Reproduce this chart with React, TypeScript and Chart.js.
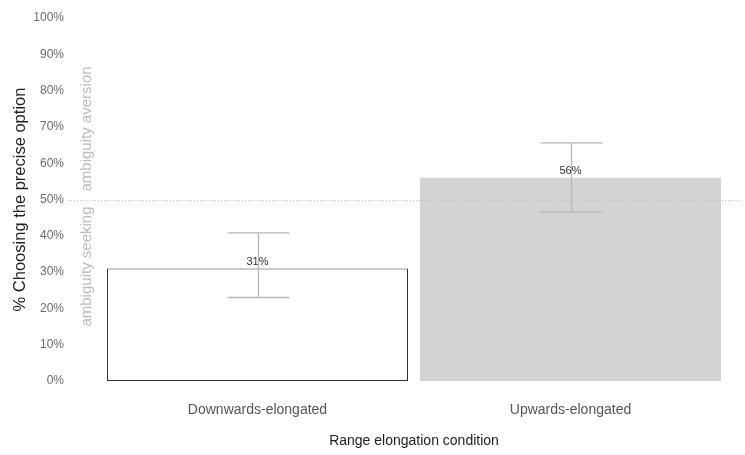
import React, { useEffect, useRef } from "react";
import { Chart, registerables } from "chart.js";

Chart.register(...registerables);

const categories = ["Downwards-elongated", "Upwards-elongated"];
const percentChoosing = [31, 56];
const ciLower = [23, 46.5];
const ciUpper = [40.8, 65.6];
const barFills = ["#ffffff", "#d3d3d3"];
const barBorders = ["#333333", "#d3d3d3"];
const barBorderWidths = [1, 0];
const referenceLine = 50;
const aboveLabel = "ambiguity aversion";
const belowLabel = "ambiguity seeking";

const FONT = "'Liberation Sans', Arial, Helvetica, sans-serif";

const annotationPlugin = {
  id: "annotations",
  afterDatasetsDraw(chart: any) {
    const { ctx, scales } = chart;
    const y = scales.y;
    const y50 = Math.round(y.getPixelForValue(referenceLine)) + 0.5;
    ctx.save();
    // dotted reference line
    ctx.strokeStyle = "#bdbdbd";
    ctx.lineWidth = 1;
    ctx.setLineDash([1, 2]);
    ctx.beginPath();
    ctx.moveTo(68, y50);
    ctx.lineTo(741, y50);
    ctx.stroke();
    ctx.setLineDash([]);

    // error bars
    const meta = chart.getDatasetMeta(0);
    ctx.strokeStyle = "#b8b8b8";
    ctx.lineWidth = 1.3;
    meta.data.forEach((bar: any, i: number) => {
      const cx = Math.round(bar.x) + 0.5;
      const yl = y.getPixelForValue(ciLower[i]);
      const yu = y.getPixelForValue(ciUpper[i]);
      const half = 31;
      ctx.beginPath();
      ctx.moveTo(cx, yl);
      ctx.lineTo(cx, yu);
      ctx.moveTo(cx - half, yu);
      ctx.lineTo(cx + half, yu);
      ctx.moveTo(cx - half, yl);
      ctx.lineTo(cx + half, yl);
      ctx.stroke();
    });

    // value labels
    ctx.fillStyle = "#333333";
    ctx.font = `11px ${FONT}`;
    ctx.textAlign = "center";
    ctx.textBaseline = "middle";
    meta.data.forEach((bar: any, i: number) => {
      ctx.fillText(`${percentChoosing[i]}%`, bar.x, y.getPixelForValue(percentChoosing[i]) - 6.5);
    });

    // rotated side annotations
    ctx.fillStyle = "#bbbbbb";
    ctx.font = `15px ${FONT}`;
    ctx.textBaseline = "middle";
    ctx.save();
    ctx.translate(87, y50 - 9);
    ctx.rotate(-Math.PI / 2);
    ctx.textAlign = "left";
    ctx.fillText(aboveLabel, 0, 0);
    ctx.restore();
    ctx.save();
    ctx.translate(87, y50 + 6);
    ctx.rotate(-Math.PI / 2);
    ctx.textAlign = "right";
    ctx.fillText(belowLabel, 0, 0);
    ctx.restore();
    ctx.restore();
  },
};

export default function App() {
  const ref = useRef<HTMLCanvasElement | null>(null);
  useEffect(() => {
    document.body.style.margin = "0";
    if (!ref.current) return;
    const chart = new Chart(ref.current, {
      type: "bar",
      data: {
        labels: categories,
        datasets: [
          {
            data: percentChoosing,
            backgroundColor: barFills,
            borderColor: barBorders,
            borderWidth: barBorderWidths,
            borderSkipped: false,
            barPercentage: 0.9617,
            categoryPercentage: 1,
          },
        ],
      },
      options: {
        animation: false,
        responsive: false,
        maintainAspectRatio: false,
        layout: { padding: { left: 0, right: 18, top: 18, bottom: 0 } },
        plugins: {
          legend: { display: false },
          tooltip: { enabled: false },
        },
        scales: {
          x: {
            type: "category",
            offset: true,
            grid: { display: false, drawTicks: false },
            border: { display: false },
            ticks: {
              color: "#555555",
              font: { family: FONT, size: 14 },
              padding: 21,
              maxRotation: 0,
            },
            title: {
              display: true,
              text: "Range elongation condition",
              color: "#222222",
              font: { family: FONT, size: 14 },
              padding: { top: 0, bottom: 5.6 },
            },
            afterFit(scale: any) {
              scale.height = 74;
              scale.paddingLeft = 0;
              scale.paddingRight = 0;
            },
          },
          y: {
            min: 0,
            max: 100,
            grid: { display: false, drawTicks: false },
            border: { display: false },
            ticks: {
              stepSize: 10,
              color: "#6b6b6b",
              font: { family: FONT, size: 12 },
              padding: 37,
              callback: (v: any) => `${v}%`,
            },
            title: {
              display: true,
              text: "% Choosing the precise option",
              color: "#222222",
              font: { family: FONT, size: 16.5 },
              padding: { top: 10.1, bottom: 0 },
            },
            afterFit(scale: any) {
              scale.width = 101;
              scale.paddingTop = 0;
              scale.paddingBottom = 0;
            },
          },
        },
      },
      plugins: [annotationPlugin],
    } as any);
    return () => chart.destroy();
  }, []);
  return (
    <div style={{ width: 745, height: 455, background: "#fff" }}>
      <canvas ref={ref} width={745} height={455} style={{ display: "block" }} />
    </div>
  );
}
